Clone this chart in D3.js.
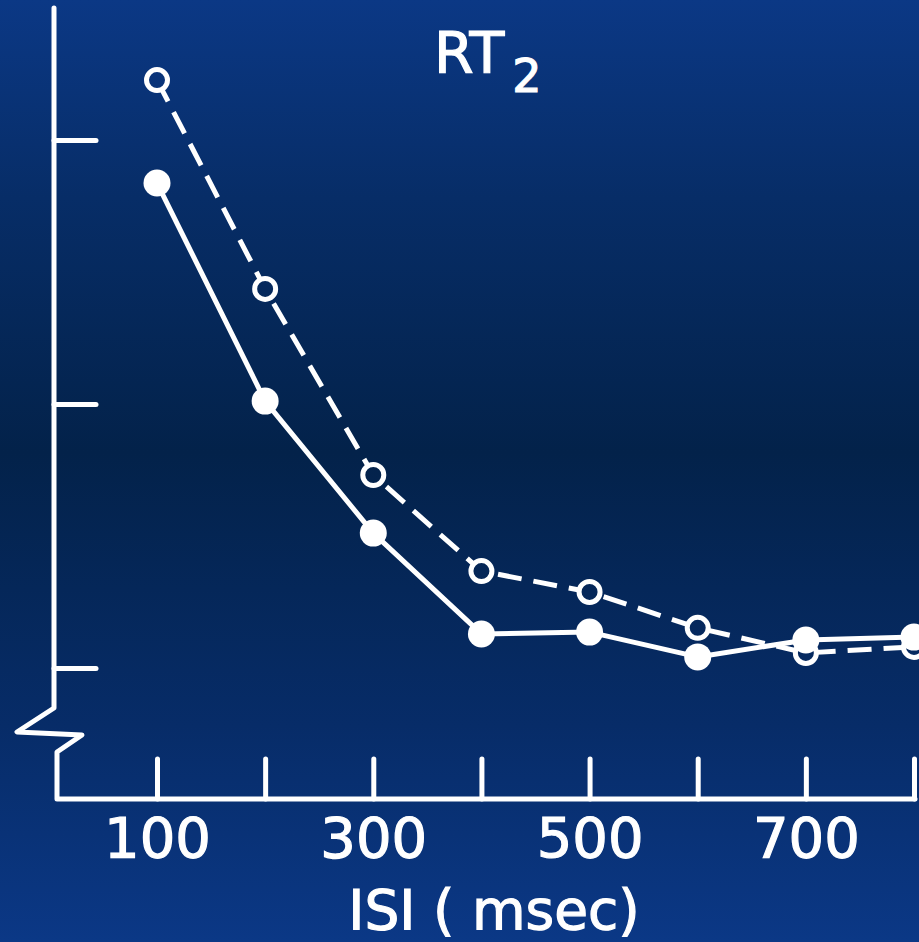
<!DOCTYPE html>
<html>
<head>
<meta charset="utf-8">
<script src="https://cdn.jsdelivr.net/npm/d3@7"></script>
<style>
  html, body { margin: 0; padding: 0; background: #03224a; }
  svg { display: block; }
</style>
</head>
<body>
<script>
// Interstimulus interval (msec) and second-response reaction times
const isi = [100, 200, 300, 400, 500, 600, 700, 800];
const rtOpen   = [822.7, 743.6, 673.1, 636.7, 628.8, 615.2, 605.7, 608.0];
const rtFilled = [783.7, 701.1, 651.1, 612.9, 613.6, 604.2, 610.6, 611.7];

// Axis ticks and labels
const xTickValues = [100, 200, 300, 400, 500, 600, 700, 800];
const xTickLabels = ["100", "300", "500", "700"];
const yTickValues = [600, 700, 800];
const yAxisTop = 850;

const W = 919, H = 942;
const baseY = 799;          // x-axis line
const font = "'DejaVu Sans', sans-serif";
const lw = 5;

const svg = d3.select("body").append("svg")
  .attr("width", W).attr("height", H);

// vertical background gradient (user space so marker fills line up with it)
const defs = svg.append("defs");
const grad = defs.append("linearGradient")
  .attr("id", "bg")
  .attr("gradientUnits", "userSpaceOnUse")
  .attr("x1", 0).attr("y1", 0).attr("x2", 0).attr("y2", H);
[[0, "#0b3885"], [0.21, "#072d67"], [0.48, "#03224a"], [0.77, "#072c68"], [1, "#0b3886"]]
  .forEach(([o, c]) => grad.append("stop").attr("offset", o).attr("stop-color", c));

svg.append("rect").attr("width", W).attr("height", H).attr("fill", "url(#bg)");

const x = d3.scaleLinear().domain([100, 800]).range([157, 914]);
const y = d3.scaleLinear().domain([600, 800]).range([668, 140]);

const white = "#ffffff";

// axis frame with the broken y-axis
const frame = [
  [54, y(yAxisTop)], [54, 708], [17, 732], [82, 735], [57, 752],
  [57, baseY], [x(800) + 1, baseY]
];
svg.append("path")
  .attr("d", d3.line()(frame))
  .attr("fill", "none")
  .attr("stroke", white)
  .attr("stroke-width", lw)
  .attr("stroke-linejoin", "round")
  .attr("stroke-linecap", "round");

// x axis: upward ticks, labels on every other hundred
const xAxis = d3.axisBottom(x)
  .tickValues(xTickValues)
  .tickSizeInner(-40)
  .tickSizeOuter(0)
  .tickPadding(18)
  .tickFormat(d => xTickLabels.includes(String(d)) ? String(d) : "");
const gx = svg.append("g").attr("transform", `translate(0,${baseY})`).call(xAxis);
gx.select(".domain").remove();
gx.selectAll(".tick line")
  .attr("stroke", white).attr("stroke-width", lw).attr("stroke-linecap", "round");
gx.selectAll(".tick text")
  .attr("fill", white)
  .attr("stroke", white)
  .attr("stroke-width", 1.2)
  .style("font-family", font)
  .style("font-size", "56px");

// y axis: unlabeled inward ticks
const yAxis = d3.axisRight(y)
  .tickValues(yTickValues)
  .tickSizeInner(42)
  .tickSizeOuter(0)
  .tickFormat("");
const gy = svg.append("g").attr("transform", "translate(54,0)").call(yAxis);
gy.select(".domain").remove();
gy.selectAll(".tick line")
  .attr("stroke", white).attr("stroke-width", lw).attr("stroke-linecap", "round");

// x-axis title
svg.append("text")
  .attr("x", 494).attr("y", 929)
  .attr("text-anchor", "middle")
  .attr("fill", white)
  .attr("stroke", white)
  .attr("stroke-width", 1.2)
  .style("font-family", font)
  .style("font-size", "55px")
  .text("ISI ( msec)");

// panel title RT₂
const title = svg.append("text")
  .attr("x", 434).attr("y", 73)
  .attr("fill", white)
  .attr("stroke", white)
  .attr("stroke-width", 1.2)
  .style("font-family", font)
  .style("font-size", "57px");
title.append("tspan").text("RT");
title.append("tspan").attr("dx", 8).attr("dy", 19).style("font-size", "46px").text("2");

const line = d3.line().x(d => x(d[0])).y(d => y(d[1]));
const openPts = isi.map((d, i) => [d, rtOpen[i]]);
const filledPts = isi.map((d, i) => [d, rtFilled[i]]);

// open-circle series, dashed
svg.append("path")
  .attr("d", line(openPts))
  .attr("fill", "none")
  .attr("stroke", white)
  .attr("stroke-width", lw)
  .attr("stroke-dasharray", "24,12")
  .attr("stroke-linejoin", "round");
svg.append("g").selectAll("circle").data(openPts).join("circle")
  .attr("cx", d => x(d[0])).attr("cy", d => y(d[1]))
  .attr("r", 10.5)
  .attr("fill", "url(#bg)")
  .attr("stroke", white)
  .attr("stroke-width", 5);

// filled-circle series, solid
svg.append("path")
  .attr("d", line(filledPts))
  .attr("fill", "none")
  .attr("stroke", white)
  .attr("stroke-width", lw)
  .attr("stroke-linejoin", "round");
svg.append("g").selectAll("circle").data(filledPts).join("circle")
  .attr("cx", d => x(d[0])).attr("cy", d => y(d[1]))
  .attr("r", 13.5)
  .attr("fill", white);
</script>
</body>
</html>
